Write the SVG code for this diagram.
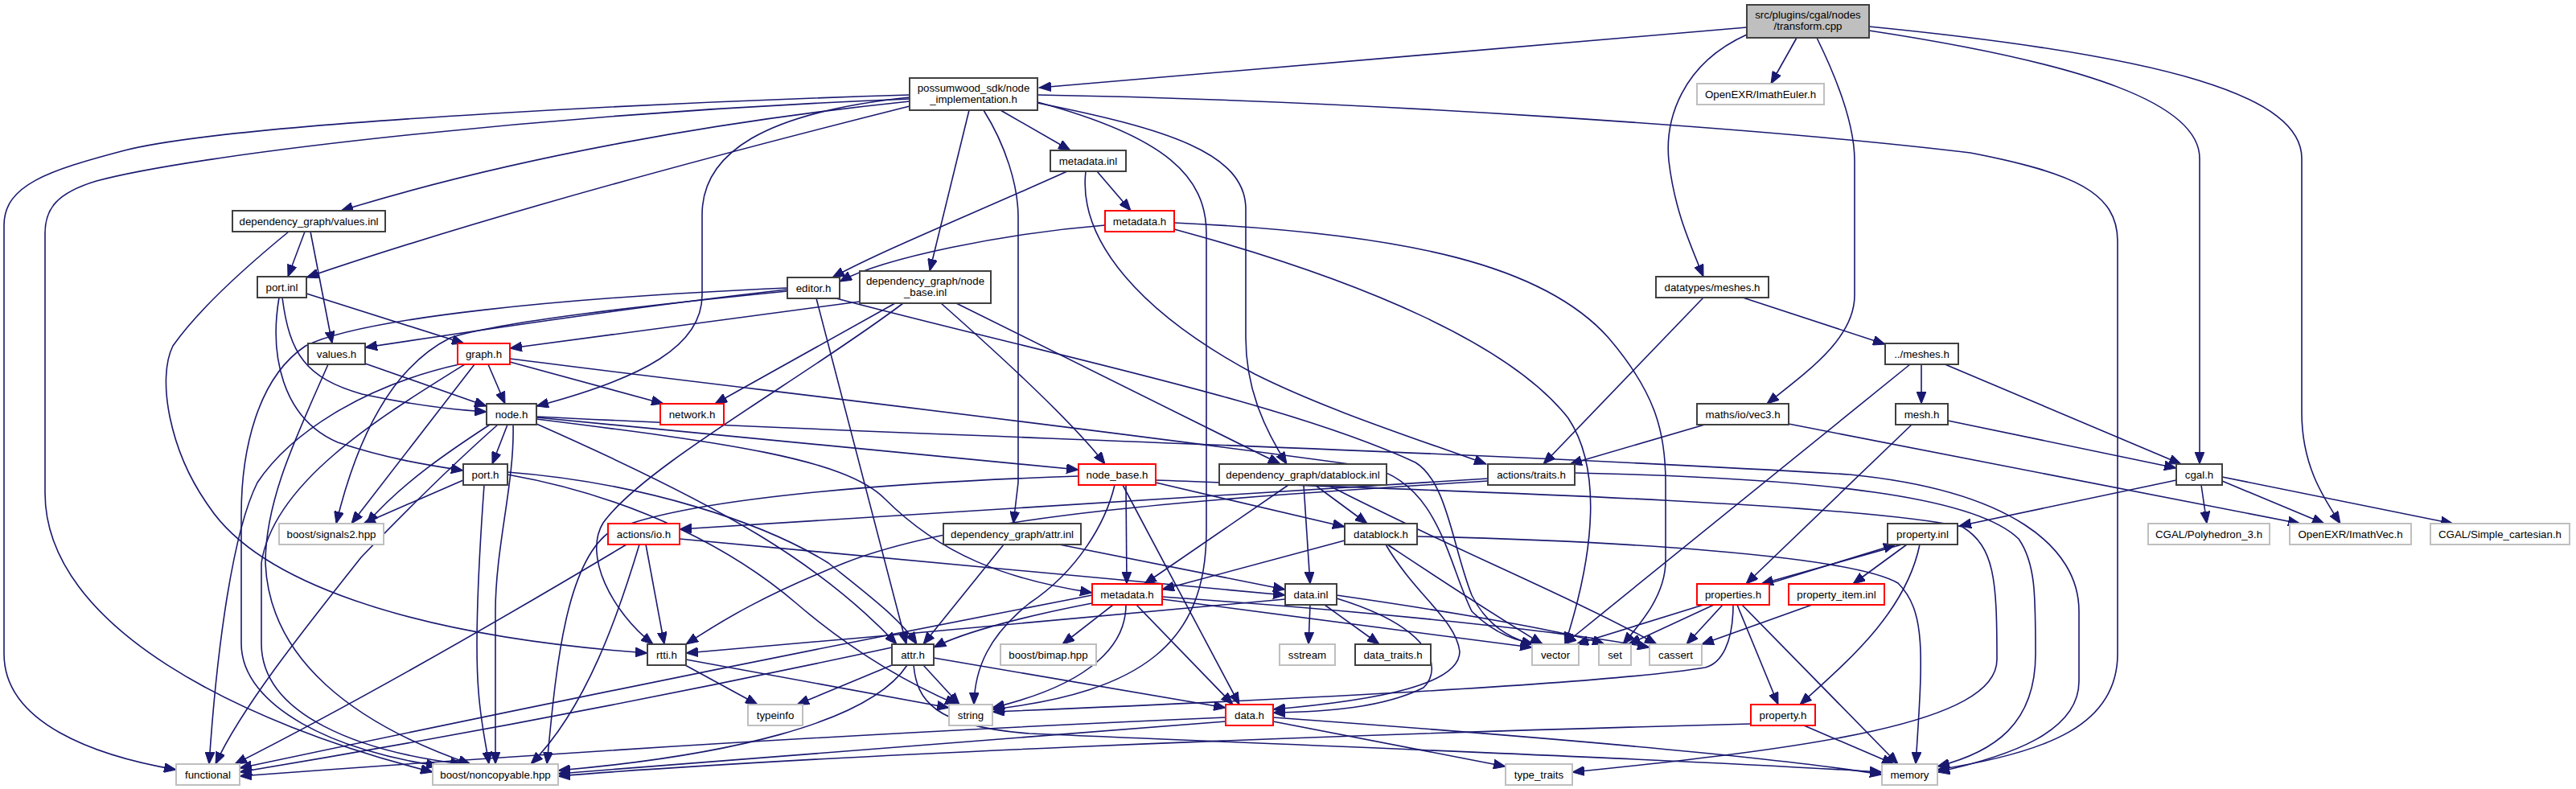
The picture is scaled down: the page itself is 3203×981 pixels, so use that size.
<svg xmlns="http://www.w3.org/2000/svg" width="3203" height="981" viewBox="0 0 3203 981">
<defs>
<marker id="ah" markerWidth="16" markerHeight="12" refX="15" refY="6" orient="auto" markerUnits="userSpaceOnUse"><path d="M0,0 L15,6 L0,12 z" fill="#191970" stroke="#191970" stroke-width="1"/></marker>
</defs>
<style>
.e{fill:none;stroke:#191970;stroke-width:1.6;marker-end:url(#ah)}
.n rect{fill:#fff;stroke:#404040;stroke-width:2}
.r rect{fill:#fff;stroke:#ff0000;stroke-width:2}
.g rect{fill:#fff;stroke:#bfbfbf;stroke-width:2}
.root rect{fill:#bfbfbf;stroke:#404040;stroke-width:2}
text{font-family:"Liberation Sans",Arial,sans-serif;font-size:13.3px;fill:#000;text-anchor:middle}
</style>
<rect width="3203" height="981" fill="#fff"/>
<g id="edges">
<path class="e" d="M2172,34 L1292,109"/>
<path class="e" d="M2234,47 L2202,104"/>
<path class="e" d="M2172,43 C2090,80 2070,150 2075,200 C2082,260 2100,300 2118,344"/>
<path class="e" d="M2259,47 C2290,110 2306,160 2306,200 L2306,367 C2306,420 2250,460 2197,502"/>
<path class="e" d="M2324,38 C2600,80 2735,130 2735,197 L2735,577"/>
<path class="e" d="M2324,33 C2700,70 2862,120 2862,197 L2862,513 C2862,580 2890,620 2910,651"/>
<path class="e" d="M1131,118 C900,125 300,150 155,187 C60,212 5,230 5,280 L5,813 C5,900 120,940 219,957"/>
<path class="e" d="M1131,123 C700,140 250,190 120,225 C70,240 56,260 56,290 L56,613 C56,780 300,900 538,960"/>
<path class="e" d="M1131,126 C900,150 640,195 424,262"/>
<path class="e" d="M1131,132 C900,190 600,270 381,345"/>
<path class="e" d="M1131,121 C950,140 873,190 873,267 L873,367 C873,430 800,470 667,505"/>
<path class="e" d="M1205,137 L1156,337"/>
<path class="e" d="M1223,137 C1250,180 1266,230 1266,270 L1266,600 L1260,651"/>
<path class="e" d="M1244,137 L1331,187"/>
<path class="e" d="M1290,127 C1450,170 1500,220 1500,290 L1500,660 C1500,800 1420,860 1234,882"/>
<path class="e" d="M1290,128 C1450,160 1549,190 1549,260 L1549,420 C1549,480 1570,530 1600,577"/>
<path class="e" d="M1290,118 C1700,125 2200,160 2450,190 C2580,215 2633,240 2633,300 L2633,813 C2633,900 2550,935 2409,957"/>
<path class="e" d="M1364,213 L1406,262"/>
<path class="e" d="M1327,213 C1200,270 1100,310 1035,345"/>
<path class="e" d="M1350,213 C1340,300 1420,390 1560,465 C1650,510 1760,545 1848,577"/>
<path class="e" d="M1374,280 C1250,290 1100,320 1044,350"/>
<path class="e" d="M1460,277 C1750,290 1920,330 2000,420 C2060,490 2071,540 2071,600 L2071,697 C2071,740 2040,775 2018,801"/>
<path class="e" d="M1460,285 C1700,350 1880,430 1950,520 C1990,580 1985,680 1946,801"/>
<path class="e" d="M379,288 L358,344"/>
<path class="e" d="M386,288 L413,427"/>
<path class="e" d="M359,288 C320,320 250,380 215,430 C195,470 210,560 260,630 C320,720 500,790 805,812"/>
<path class="e" d="M381,365 L577,427"/>
<path class="e" d="M347,370 C335,440 350,520 420,550 C480,570 530,578 576,585"/>
<path class="e" d="M351,370 C360,440 380,470 450,490 C520,505 570,510 605,512"/>
<path class="e" d="M979,360 C800,380 600,410 454,432"/>
<path class="e" d="M979,362 C800,380 620,400 560,420 C480,460 440,560 418,651"/>
<path class="e" d="M979,358 C700,370 450,395 380,430 C320,470 300,560 300,640 L300,800 C300,880 420,935 545,952"/>
<path class="e" d="M1015,371 L1127,801"/>
<path class="e" d="M1036,370 C1300,440 1600,500 1760,575 C1800,600 1806,680 1830,740 C1850,780 1880,795 1907,801"/>
<path class="e" d="M1069,375 L634,433"/>
<path class="e" d="M1113,377 L889,502"/>
<path class="e" d="M1123,377 C1000,470 800,580 750,650 C725,690 760,760 812,801"/>
<path class="e" d="M1189,377 L1592,577"/>
<path class="e" d="M1170,377 C1230,430 1330,520 1374,577"/>
<path class="e" d="M607,453 L628,502"/>
<path class="e" d="M634,450 L825,502"/>
<path class="e" d="M590,453 L437,651"/>
<path class="e" d="M571,453 C450,480 360,540 320,600 C290,660 270,800 260,950"/>
<path class="e" d="M578,453 C470,520 340,600 325,700 L325,800 C325,890 450,935 575,950"/>
<path class="e" d="M634,446 C900,480 1300,525 1700,580 C1790,600 1800,700 1830,760 C1860,790 1890,800 1920,801"/>
<path class="e" d="M454,452 L605,505"/>
<path class="e" d="M408,453 C370,540 330,620 330,700 C335,820 440,900 585,950"/>
<path class="e" d="M631,528 L612,577"/>
<path class="e" d="M609,528 C560,560 500,600 456,651"/>
<path class="e" d="M619,528 C560,580 500,640 449,693 C380,780 300,880 268,950"/>
<path class="e" d="M638,528 C640,600 616,680 616,760 L616,950"/>
<path class="e" d="M667,518 C1100,540 1800,560 2300,590 C2500,610 2585,680 2585,760 L2585,847 C2585,910 2500,940 2409,960"/>
<path class="e" d="M667,519 L1341,584"/>
<path class="e" d="M667,521 C900,550 1050,570 1100,620 C1170,690 1250,720 1358,737"/>
<path class="e" d="M667,527 C900,630 1020,700 1115,801"/>
<path class="e" d="M576,597 L452,651"/>
<path class="e" d="M602,603 C595,700 590,800 595,860 C598,900 605,930 608,950"/>
<path class="e" d="M631,587 C800,600 950,650 1030,700 C1080,740 1120,770 1140,801"/>
<path class="e" d="M631,590 C800,620 920,690 990,750 C1060,810 1130,850 1190,876"/>
<path class="e" d="M803,677 L826,801"/>
<path class="e" d="M779,677 C640,760 450,870 292,950"/>
<path class="e" d="M795,677 C770,760 730,880 660,950"/>
<path class="e" d="M845,670 L1598,740"/>
<path class="e" d="M1850,595 L845,658"/>
<path class="e" d="M1850,598 C1500,620 1200,640 1050,700 C950,740 900,770 853,801"/>
<path class="e" d="M1958,588 C2300,595 2462,623 2510,670 C2531,700 2531,740 2531,813 C2531,900 2480,935 2409,953"/>
<path class="e" d="M1248,677 L1148,801"/>
<path class="e" d="M1317,677 L1598,733"/>
<path class="e" d="M1400,603 L1401,726"/>
<path class="e" d="M1396,603 L1541,876"/>
<path class="e" d="M1437,600 L1672,655"/>
<path class="e" d="M1437,597 C1800,610 2300,625 2440,655 C2480,680 2483,720 2483,820 C2483,900 2250,930 1955,960"/>
<path class="e" d="M1386,603 C1375,650 1340,710 1280,750 C1230,790 1212,830 1211,876"/>
<path class="e" d="M1341,592 C1100,600 850,620 760,660 C700,700 690,850 680,950"/>
<path class="e" d="M1635,603 L1700,651"/>
<path class="e" d="M1621,603 L1629,726"/>
<path class="e" d="M1602,603 L1423,726"/>
<path class="e" d="M1651,603 C1800,680 1950,740 2060,801"/>
<path class="e" d="M1672,672 L1445,733"/>
<path class="e" d="M1725,677 C1790,720 1850,760 1918,801"/>
<path class="e" d="M1723,677 C1760,740 1810,770 1815,810 C1815,850 1720,870 1583,882"/>
<path class="e" d="M1762,667 C2000,672 2300,690 2360,725 C2395,760 2391,813 2382,950"/>
<path class="e" d="M1445,745 L1905,805"/>
<path class="e" d="M1445,742 C1700,760 1950,785 2051,805"/>
<path class="e" d="M1384,752 L1321,801"/>
<path class="e" d="M1400,752 C1400,800 1360,850 1234,880"/>
<path class="e" d="M1413,752 L1533,876"/>
<path class="e" d="M1358,750 C1280,765 1200,785 1161,805"/>
<path class="e" d="M1358,740 C1100,790 700,870 298,955"/>
<path class="e" d="M1629,752 L1627,801"/>
<path class="e" d="M1647,752 L1715,801"/>
<path class="e" d="M1662,744 C1780,780 1795,830 1770,855 C1720,880 1650,885 1583,886"/>
<path class="e" d="M1662,740 C1800,760 1950,785 1995,801"/>
<path class="e" d="M1598,745 C1400,765 1100,790 853,812"/>
<path class="e" d="M1109,827 L991,876"/>
<path class="e" d="M1148,827 L1193,876"/>
<path class="e" d="M1161,818 L1524,880"/>
<path class="e" d="M1136,827 C1140,870 1160,903 1280,912 C1700,930 2100,945 2340,960"/>
<path class="e" d="M1109,805 C900,850 600,910 298,960"/>
<path class="e" d="M1128,827 C1080,900 900,940 694,958"/>
<path class="e" d="M852,827 L942,876"/>
<path class="e" d="M853,820 L1180,880"/>
<path class="e" d="M1524,892 C1100,910 700,935 298,965"/>
<path class="e" d="M1524,897 C1200,920 900,945 694,962"/>
<path class="e" d="M1583,892 C1900,915 2200,940 2340,963"/>
<path class="e" d="M1583,897 L1872,953"/>
<path class="e" d="M2123,527 L1952,577"/>
<path class="e" d="M2224,527 L2860,651"/>
<path class="e" d="M2422,523 L2706,582"/>
<path class="e" d="M2416,452 L2712,577"/>
<path class="e" d="M2389,453 L2389,502"/>
<path class="e" d="M2375,453 L1945,801"/>
<path class="e" d="M2167,370 L2344,428"/>
<path class="e" d="M2118,370 L1919,577"/>
<path class="e" d="M2377,528 L2171,726"/>
<path class="e" d="M2706,597 L2436,654"/>
<path class="e" d="M2737,603 L2744,651"/>
<path class="e" d="M2763,598 L2890,651"/>
<path class="e" d="M2763,593 L3050,651"/>
<path class="e" d="M2198,726 L2357,677"/>
<path class="e" d="M2365,677 L2190,726"/>
<path class="e" d="M2371,677 L2304,726"/>
<path class="e" d="M2387,677 C2370,760 2300,820 2238,876"/>
<path class="e" d="M2118,752 L1960,801"/>
<path class="e" d="M2131,752 L2025,801"/>
<path class="e" d="M2142,752 L2097,801"/>
<path class="e" d="M2160,752 L2211,876"/>
<path class="e" d="M2166,752 L2360,950"/>
<path class="e" d="M2155,752 C2155,800 2140,825 2120,830 C2000,850 1600,870 1234,885"/>
<path class="e" d="M2253,752 L2116,801"/>
<path class="e" d="M2243,902 L2355,950"/>
<path class="e" d="M2177,900 C1600,915 1000,940 694,965"/>
</g>
<g id="n_transform" class="root"><rect x="2172" y="6" width="152" height="41"/><text x="2248" y="23">src/plugins/cgal/nodes</text><text x="2248" y="37">/transform.cpp</text></g>
<g id="n_node_impl" class="n"><rect x="1131" y="97" width="159" height="40"/><text x="1210.5" y="114">possumwood_sdk/node</text><text x="1210.5" y="128">_implementation.h</text></g>
<g id="n_imatheuler" class="g"><rect x="2110" y="104" width="158" height="26"/><text x="2189" y="122">OpenEXR/ImathEuler.h</text></g>
<g id="n_metadata_inl" class="n"><rect x="1306" y="187" width="94" height="26"/><text x="1353" y="205">metadata.inl</text></g>
<g id="n_values_inl" class="n"><rect x="289" y="262" width="190" height="26"/><text x="384" y="280">dependency_graph/values.inl</text></g>
<g id="n_metadata_sdk" class="r"><rect x="1374" y="262" width="86" height="26"/><text x="1417" y="280">metadata.h</text></g>
<g id="n_editor" class="n"><rect x="979" y="345" width="65" height="26"/><text x="1011.5" y="363">editor.h</text></g>
<g id="n_node_base_inl" class="n"><rect x="1069" y="337" width="163" height="40"/><text x="1150.5" y="354">dependency_graph/node</text><text x="1150.5" y="368">_base.inl</text></g>
<g id="n_port_inl" class="n"><rect x="320" y="344" width="61" height="26"/><text x="350.5" y="362">port.inl</text></g>
<g id="n_dt_meshes" class="n"><rect x="2059" y="344" width="140" height="26"/><text x="2129" y="362">datatypes/meshes.h</text></g>
<g id="n_values_h" class="n"><rect x="383" y="427" width="71" height="26"/><text x="418.5" y="445">values.h</text></g>
<g id="n_graph" class="r"><rect x="569" y="427" width="65" height="26"/><text x="601.5" y="445">graph.h</text></g>
<g id="n_meshes" class="n"><rect x="2344" y="427" width="91" height="26"/><text x="2389.5" y="445">../meshes.h</text></g>
<g id="n_node" class="n"><rect x="605" y="502" width="62" height="26"/><text x="636" y="520">node.h</text></g>
<g id="n_network" class="r"><rect x="821" y="502" width="79" height="26"/><text x="860.5" y="520">network.h</text></g>
<g id="n_vec3" class="n"><rect x="2110" y="502" width="114" height="26"/><text x="2167" y="520">maths/io/vec3.h</text></g>
<g id="n_mesh" class="n"><rect x="2357" y="502" width="65" height="26"/><text x="2389.5" y="520">mesh.h</text></g>
<g id="n_port_h" class="n"><rect x="576" y="577" width="55" height="26"/><text x="603.5" y="595">port.h</text></g>
<g id="n_node_base_h" class="r"><rect x="1341" y="577" width="96" height="26"/><text x="1389" y="595">node_base.h</text></g>
<g id="n_datablock_inl" class="n"><rect x="1516" y="577" width="208" height="26"/><text x="1620" y="595">dependency_graph/datablock.inl</text></g>
<g id="n_traits" class="n"><rect x="1850" y="577" width="108" height="26"/><text x="1904" y="595">actions/traits.h</text></g>
<g id="n_cgal" class="n"><rect x="2706" y="577" width="57" height="26"/><text x="2734.5" y="595">cgal.h</text></g>
<g id="n_signals2" class="g"><rect x="347" y="651" width="130" height="26"/><text x="412" y="669">boost/signals2.hpp</text></g>
<g id="n_io" class="r"><rect x="756" y="651" width="89" height="26"/><text x="800.5" y="669">actions/io.h</text></g>
<g id="n_attr_inl" class="n"><rect x="1173" y="651" width="171" height="26"/><text x="1258.5" y="669">dependency_graph/attr.inl</text></g>
<g id="n_datablock_h" class="n"><rect x="1672" y="651" width="90" height="26"/><text x="1717" y="669">datablock.h</text></g>
<g id="n_property_inl" class="n"><rect x="2347" y="651" width="87" height="26"/><text x="2390.5" y="669">property.inl</text></g>
<g id="n_polyhedron" class="g"><rect x="2671" y="651" width="151" height="26"/><text x="2746.5" y="669">CGAL/Polyhedron_3.h</text></g>
<g id="n_imathvec" class="g"><rect x="2847" y="651" width="151" height="26"/><text x="2922.5" y="669">OpenEXR/ImathVec.h</text></g>
<g id="n_simple_cart" class="g"><rect x="3022" y="651" width="173" height="26"/><text x="3108.5" y="669">CGAL/Simple_cartesian.h</text></g>
<g id="n_metadata_dg" class="r"><rect x="1358" y="726" width="87" height="26"/><text x="1401.5" y="744">metadata.h</text></g>
<g id="n_data_inl" class="n"><rect x="1598" y="726" width="64" height="26"/><text x="1630" y="744">data.inl</text></g>
<g id="n_properties" class="r"><rect x="2110" y="726" width="90" height="26"/><text x="2155" y="744">properties.h</text></g>
<g id="n_property_item" class="r"><rect x="2224" y="726" width="119" height="26"/><text x="2283.5" y="744">property_item.inl</text></g>
<g id="n_rtti" class="n"><rect x="805" y="801" width="48" height="26"/><text x="829" y="819">rtti.h</text></g>
<g id="n_attr_h" class="n"><rect x="1109" y="801" width="52" height="26"/><text x="1135" y="819">attr.h</text></g>
<g id="n_bimap" class="g"><rect x="1244" y="801" width="119" height="26"/><text x="1303.5" y="819">boost/bimap.hpp</text></g>
<g id="n_sstream" class="g"><rect x="1591" y="801" width="69" height="26"/><text x="1625.5" y="819">sstream</text></g>
<g id="n_data_traits" class="n"><rect x="1685" y="801" width="94" height="26"/><text x="1732" y="819">data_traits.h</text></g>
<g id="n_vector" class="g"><rect x="1905" y="801" width="58" height="26"/><text x="1934" y="819">vector</text></g>
<g id="n_set" class="g"><rect x="1988" y="801" width="40" height="26"/><text x="2008" y="819">set</text></g>
<g id="n_cassert" class="g"><rect x="2051" y="801" width="65" height="26"/><text x="2083.5" y="819">cassert</text></g>
<g id="n_typeinfo" class="g"><rect x="930" y="876" width="68" height="26"/><text x="964" y="894">typeinfo</text></g>
<g id="n_string" class="g"><rect x="1180" y="876" width="54" height="26"/><text x="1207" y="894">string</text></g>
<g id="n_data_h" class="r"><rect x="1524" y="876" width="59" height="26"/><text x="1553.5" y="894">data.h</text></g>
<g id="n_property_h" class="r"><rect x="2177" y="876" width="80" height="26"/><text x="2217" y="894">property.h</text></g>
<g id="n_functional" class="g"><rect x="219" y="950" width="79" height="26"/><text x="258.5" y="968">functional</text></g>
<g id="n_noncopyable" class="g"><rect x="538" y="950" width="156" height="26"/><text x="616" y="968">boost/noncopyable.hpp</text></g>
<g id="n_type_traits" class="g"><rect x="1872" y="950" width="83" height="26"/><text x="1913.5" y="968">type_traits</text></g>
<g id="n_memory" class="g"><rect x="2340" y="950" width="69" height="26"/><text x="2374.5" y="968">memory</text></g>
</svg>
